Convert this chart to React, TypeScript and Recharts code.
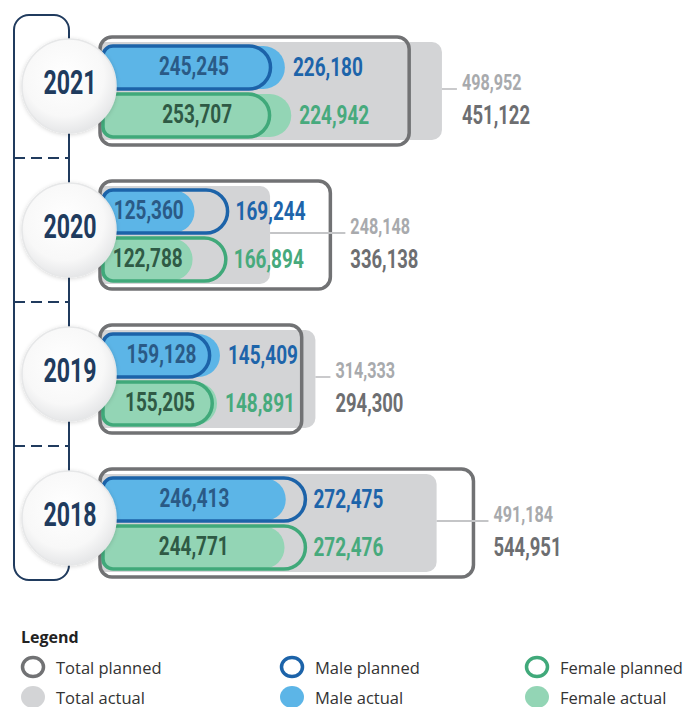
import { Bar, BarChart, LabelList, Rectangle, XAxis, YAxis } from 'recharts'

const years = ['2021', '2020', '2019', '2018']
const totalActual = [498952, 248148, 314333, 491184]
const totalPlanned = [451122, 336138, 294300, 544951]
const maleActual = [245245, 125360, 159128, 246413]
const malePlanned = [226180, 169244, 145409, 272475]
const femaleActual = [253707, 122788, 155205, 244771]
const femalePlanned = [224942, 166894, 148891, 272476]

const data = years.map((year, i) => ({
  year,
  totalActual: totalActual[i],
  totalPlanned: totalPlanned[i],
  maleActual: maleActual[i],
  malePlanned: malePlanned[i],
  femaleActual: femaleActual[i],
  femalePlanned: femalePlanned[i]
}))

const colors = {
  navy: '#203b5e',
  totalLine: '#717274',
  totalFill: '#d3d4d6',
  totalText: '#6d6e71',
  totalTextLight: '#a8aaad',
  maleLine: '#1c63a9',
  maleFill: '#5cb5e7',
  maleText: '#2a5a86',
  malePlannedText: '#1d64aa',
  femaleLine: '#40a97a',
  femaleFill: '#93d5b5',
  femaleText: '#2f5a45',
  femalePlannedText: '#47aa7d'
}

const legendItems = [
  { label: 'Total planned', color: colors.totalLine, outline: true },
  { label: 'Male planned', color: colors.maleLine, outline: true },
  { label: 'Female planned', color: colors.femaleLine, outline: true },
  { label: 'Total actual', color: colors.totalFill, outline: false },
  { label: 'Male actual', color: colors.maleFill, outline: false },
  { label: 'Female actual', color: colors.femaleFill, outline: false }
]

// no condensed face installed, so text is squeezed with textLength
const numFont = "Roboto, 'Liberation Sans', sans-serif"
const textFont = "'Open Sans', 'Noto Sans', sans-serif"

// chart frame
const PLOT_TOP = 19
const BAND = 144
const CIRCLE_X = 69
const SUB_INSET = 3

const fmt = (v: number) => v.toLocaleString('en-US')

function box(props: any) {
  const vb = props.viewBox ?? props
  return { x: Number(vb.x), y: Number(vb.y), width: Number(vb.width), height: Number(vb.height) }
}

function NumText({ x, y, text, size, digit, color, anchor = 'start' }: any) {
  const len = [...text].reduce((s: number, c: string) => s + (c === ',' ? digit * 0.42 : digit), 0)
  return (
    <text
      x={x}
      y={y}
      textAnchor={anchor}
      dominantBaseline="central"
      fill={color}
      textLength={len}
      lengthAdjust="spacingAndGlyphs"
      style={{ fontFamily: numFont, fontSize: size, fontWeight: 700 }}
    >
      {text}
    </text>
  )
}

function YearTick(props: any) {
  const { y, payload } = props
  const cy = y - 5
  const key = payload.value
  return (
    <g>
      <defs>
        <radialGradient id={`yg${key}`} cx="45%" cy="40%" r="65%">
          <stop offset="0%" stopColor="#ffffff" />
          <stop offset="65%" stopColor="#f8f8f8" />
          <stop offset="100%" stopColor="#e1e2e4" />
        </radialGradient>
        <filter id={`ys${key}`} x="-30%" y="-30%" width="160%" height="160%">
          <feDropShadow dx="0" dy="1" stdDeviation="2" floodColor="#000" floodOpacity="0.16" />
        </filter>
      </defs>
      <circle cx={CIRCLE_X} cy={cy} r={47} fill={`url(#yg${key})`} stroke="#e6e7e8" strokeWidth={1.5} filter={`url(#ys${key})`} />
      <NumText x={CIRCLE_X + 1} y={cy - 4} text={String(key)} size={33} digit={13.3} color={colors.navy} anchor="middle" />
    </g>
  )
}

const subShape = (fill: string, stroke: string) => (props: any) => {
  const { x, y, width, height } = props
  const r = height / 2
  return (
    <Rectangle
      x={x + SUB_INSET}
      y={y}
      width={Math.max(width - SUB_INSET, 0)}
      height={height}
      radius={[10, r, r, 10]}
      fill={fill}
      stroke={stroke}
      strokeWidth={stroke === 'none' ? 0 : 3.5}
    />
  )
}

const totalActualShape = (props: any) => (
  <Rectangle {...box(props)} radius={[4, 10, 10, 4]} fill={colors.totalFill} />
)

const totalPlannedShape = (props: any) => (
  <Rectangle {...box(props)} radius={12} fill="none" stroke={colors.totalLine} strokeWidth={3.5} />
)

const insideLabel = (color: string) => (props: any) => {
  const { x, y, width, height } = box(props)
  return (
    <NumText
      x={x + SUB_INSET + (width - SUB_INSET) / 2}
      y={y + height / 2 - 1}
      text={fmt(Number(props.value))}
      size={25}
      digit={10.9}
      color={color}
      anchor="middle"
    />
  )
}

const plannedLabel = (who: 'male' | 'female', color: string) => (props: any) => {
  const { x, y, width, height } = box(props)
  const row: any = data[props.index]
  const planned = row[`${who}Planned`]
  const actual = row[`${who}Actual`]
  const end = x + width * Math.max(1, actual / planned)
  return <NumText x={end + 8} y={y + height / 2} text={fmt(planned)} size={25} digit={10.9} color={color} />
}

const totalLabel = (props: any) => {
  const { x, y, width, height } = box(props)
  const row = data[props.index]
  const actualEnd = x + (width * row.totalActual) / row.totalPlanned
  const lx = Math.max(x + width, actualEnd) + 20
  const cy = y + height / 2
  return (
    <g>
      <line x1={actualEnd} x2={lx - 5} y1={cy - 2} y2={cy - 2} stroke="#c4c5c7" strokeWidth={1.8} />
      <NumText x={lx} y={cy - 9} text={fmt(row.totalActual)} size={22} digit={9.3} color={colors.totalTextLight} />
      <NumText x={lx} y={cy + 24} text={fmt(row.totalPlanned)} size={25} digit={10.6} color={colors.totalText} />
    </g>
  )
}

function Bracket() {
  const separators = [1, 2, 3].map((k) => PLOT_TOP + BAND * k - 5)
  return (
    <svg width={686} height={600} style={{ position: 'absolute', left: 0, top: 0 }}>
      <rect x={14} y={15} width={55} height={565} rx={15} fill="none" stroke={colors.navy} strokeWidth={2} />
      {separators.map((y) => (
        <line key={y} x1={14} x2={69} y1={y} y2={y} stroke={colors.navy} strokeWidth={2} strokeDasharray="11 6" />
      ))}
    </svg>
  )
}

function ChartLegend() {
  const cols = [20, 279, 524]
  return (
    <div style={{ position: 'absolute', left: 0, top: 626, width: 686, fontFamily: textFont, color: '#333' }}>
      <div style={{ position: 'absolute', left: 21, top: 0, fontWeight: 700, fontSize: 16, color: '#222' }}>Legend</div>
      {legendItems.map((item, i) => {
        const left = cols[i % 3]
        const top = 29 + Math.floor(i / 3) * 30
        return (
          <div key={item.label} style={{ position: 'absolute', left, top, display: 'flex', alignItems: 'center', whiteSpace: 'nowrap' }}>
            <svg width={26} height={24}>
              <ellipse
                cx={13}
                cy={12}
                rx={item.outline ? 10.5 : 12}
                ry={item.outline ? 9.5 : 11}
                fill={item.outline ? '#fff' : item.color}
                stroke={item.outline ? item.color : 'none'}
                strokeWidth={3.5}
              />
            </svg>
            <span style={{ marginLeft: 10, fontSize: 16.5 }}>{item.label}</span>
          </div>
        )
      })}
    </div>
  )
}

export default function App() {
  return (
    <div style={{ position: 'absolute', left: 0, top: 0, width: 686, height: 707, background: '#fff', overflow: 'hidden' }}>
      <Bracket />
      <div style={{ position: 'absolute', left: 0, top: 0 }}>
        <BarChart
          width={686}
          height={600}
          data={data}
          layout="vertical"
          barGap={5}
          margin={{ top: PLOT_TOP, right: 96, bottom: 5, left: 0 }}
        >
          <XAxis xAxisId="total" type="number" domain={[0, 715000]} hide />
          <XAxis xAxisId="sub" type="number" domain={[0, 650000]} hide />
          <YAxis yAxisId="tp" type="category" dataKey="year" hide />
          <YAxis yAxisId="sa" type="category" dataKey="year" hide />
          <YAxis yAxisId="sp" type="category" dataKey="year" hide />
          <Bar xAxisId="total" yAxisId="year" dataKey="totalActual" barSize={98} shape={totalActualShape} isAnimationActive={false} />
          <Bar xAxisId="total" yAxisId="tp" dataKey="totalPlanned" barSize={108} shape={totalPlannedShape} isAnimationActive={false}>
            <LabelList dataKey="totalPlanned" content={totalLabel} />
          </Bar>
          <Bar xAxisId="sub" yAxisId="sa" dataKey="maleActual" barSize={43} shape={subShape(colors.maleFill, 'none')} isAnimationActive={false}>
            <LabelList dataKey="maleActual" content={insideLabel(colors.maleText)} />
          </Bar>
          <Bar xAxisId="sub" yAxisId="sa" dataKey="femaleActual" barSize={43} shape={subShape(colors.femaleFill, 'none')} isAnimationActive={false}>
            <LabelList dataKey="femaleActual" content={insideLabel(colors.femaleText)} />
          </Bar>
          <Bar xAxisId="sub" yAxisId="sp" dataKey="malePlanned" barSize={43} shape={subShape('none', colors.maleLine)} isAnimationActive={false}>
            <LabelList dataKey="malePlanned" content={plannedLabel('male', colors.malePlannedText)} />
          </Bar>
          <Bar xAxisId="sub" yAxisId="sp" dataKey="femalePlanned" barSize={43} shape={subShape('none', colors.femaleLine)} isAnimationActive={false}>
            <LabelList dataKey="femalePlanned" content={plannedLabel('female', colors.femalePlannedText)} />
          </Bar>
          <YAxis
            yAxisId="year"
            type="category"
            dataKey="year"
            width={100}
            axisLine={false}
            tickLine={false}
            interval={0}
            tick={(p: any) => <YearTick {...p} />}
          />
        </BarChart>
      </div>
      <ChartLegend />
    </div>
  )
}
